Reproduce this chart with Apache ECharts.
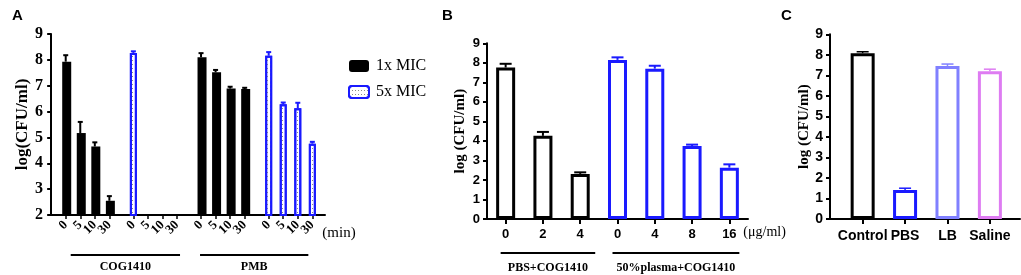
<!DOCTYPE html>
<html>
<head>
<meta charset="utf-8">
<script src="https://cdn.jsdelivr.net/npm/echarts@6/dist/echarts.min.js"></script>
<style>
html,body{margin:0;padding:0;background:#fff;}
#fig{width:1021px;height:275px;}
</style>
</head>
<body>
<div id="fig"></div>
<script>
// A: time kill (log CFU/ml), 4 groups x 4 time points
var timeLabels = ['0', '5', '10', '30'];
var cog1x = [7.93, 5.17, 4.65, 2.55];
var cog1xErr = [0.25, 0.43, 0.16, 0.18];
var cog5x = [8.27, null, null, null];
var cog5xErr = [0.06, null, null, null];
var pmb1x = [8.10, 7.52, 6.89, 6.87];
var pmb1xErr = [0.16, 0.09, 0.07, 0.05];
var pmb5x = [8.16, 6.28, 6.13, 4.76];
var pmb5xErr = [0.14, 0.07, 0.21, 0.07];

// B: dose (ug/ml) in PBS vs 50% plasma
var doseLabels = ['0', '2', '4', '0', '4', '8', '16'];
var pbsVals = [7.76, 4.26, 2.31];
var pbsErr = [0.19, 0.20, 0.08];
var plasmaVals = [8.15, 7.70, 3.74, 2.63];
var plasmaErr = [0.13, 0.15, 0.07, 0.17];

// C: medium
var mediumLabels = ['Control', 'PBS', 'LB', 'Saline'];
var mediumVals = [8.08, 1.41, 7.46, 7.20];
var mediumErr = [0.07, 0.09, 0.09, 0.10];

var BLUE = '#1a1aff';
var mediumColors = ['#000000', BLUE, '#8080ff', '#de7cf2'];
var SERIF = '"Liberation Serif", "DejaVu Serif", serif';
var SANS = '"Liberation Sans", Arial, sans-serif';

// x position of bar k in group g for panel A (extra gap between groups)
function posA(g, k) { return 1 + g * 4 + k + g * 0.65; }
var A_MAX = 18.82;
// x position of bar i in panel C
function posC(i) { return 1 + i; }

var groupsA = [
  { vals: cog1x, err: cog1xErr },
  { vals: cog5x, err: cog5xErr },
  { vals: pmb1x, err: pmb1xErr },
  { vals: pmb5x, err: pmb5xErr }
];
var ticksA = [], labelMapA = {};
var bars1x = [], bars5x = [], errA1 = [], errA5 = [];
groupsA.forEach(function (gr, g) {
  for (var k = 0; k < 4; k++) {
    var p = posA(g, k);
    ticksA.push(p);
    labelMapA[p.toFixed(2)] = timeLabels[k];
    if (gr.vals[k] == null) continue;
    var target = (g % 2 === 0) ? bars1x : bars5x;
    target.push([p, gr.vals[k]]);
    (g % 2 === 0 ? errA1 : errA5).push([p, gr.vals[k], gr.vals[k] + gr.err[k]]);
  }
});
// blank label at the axis end so the real last label is not dropped as an overlap
var labelPosA = ticksA.concat([A_MAX]);

var barsB = [], errB = [], colorsB = [];
pbsVals.forEach(function (v, i) { barsB.push(v); errB.push([i, v, v + pbsErr[i]]); colorsB.push('#000'); });
plasmaVals.forEach(function (v, i) { var j = i + 3; barsB.push(v); errB.push([j, v, v + plasmaErr[i]]); colorsB.push(BLUE); });

var ticksC = mediumLabels.map(function (s, i) { return posC(i); });
var errC = mediumVals.map(function (v, i) { return [posC(i), v, v + mediumErr[i]]; });

// error bar drawn from the raw [x, mean, upper] rows
function errRender(rows, capW, lw, colorOf) {
  return function (params, api) {
    var r = rows[params.dataIndex];
    var p0 = api.coord([r[0], r[1]]), p1 = api.coord([r[0], r[2]]);
    var c = colorOf(params.dataIndex);
    return {
      type: 'group',
      children: [
        { type: 'line', shape: { x1: p0[0], y1: p0[1], x2: p1[0], y2: p1[1] }, style: { stroke: c, lineWidth: lw } },
        { type: 'line', shape: { x1: p1[0] - capW / 2, y1: p1[1], x2: p1[0] + capW / 2, y2: p1[1] }, style: { stroke: c, lineWidth: lw } }
      ]
    };
  };
}

var axisLine = { show: true, lineStyle: { color: '#000', width: 2 } };
var axisTick = { show: true, length: 4, lineStyle: { color: '#000', width: 2 } };

function yAxisFor(grid, min, labelFont, labelSize, name, nameSize, nameGap) {
  return {
    type: 'value', gridIndex: grid, min: min, max: 9, interval: 1,
    axisLine: axisLine, axisTick: axisTick, splitLine: { show: false },
    axisLabel: { color: '#000', fontFamily: labelFont, fontWeight: 'bold', fontSize: labelSize, margin: 7 },
    name: name, nameLocation: 'middle', nameGap: nameGap,
    nameTextStyle: { color: '#000', fontFamily: SERIF, fontWeight: 'bold', fontSize: nameSize }
  };
}

var chart = echarts.init(document.getElementById('fig'));
var option = {
  animation: false,
  backgroundColor: '#fff',
  title: [
    { text: 'A', left: 7, top: 3, textStyle: { fontFamily: SANS, fontWeight: 'bold', fontSize: 15, color: '#000' } },
    { text: 'B', left: 437, top: 3, textStyle: { fontFamily: SANS, fontWeight: 'bold', fontSize: 15, color: '#000' } },
    { text: 'C', left: 776, top: 3, textStyle: { fontFamily: SANS, fontWeight: 'bold', fontSize: 15, color: '#000' } }
  ],
  legend: {
    data: ['1x MIC', '5x MIC'], orient: 'vertical', left: 343, top: 53,
    itemWidth: 20, itemHeight: 12, itemGap: 10,
    textStyle: { fontFamily: SERIF, fontSize: 16, color: '#000', padding: [0, 0, 0, 2] }
  },
  grid: [
    { left: 50, top: 34, width: 275, height: 181 },
    { left: 487, top: 43.3, width: 261, height: 175.7 },
    { left: 830, top: 34.3, width: 190, height: 184.7 }
  ],
  xAxis: [
    {
      type: 'value', gridIndex: 0, min: -0.08, max: A_MAX,
      axisLine: axisLine, splitLine: { show: false },
      axisTick: { show: true, length: 4, lineStyle: { color: '#000', width: 1.5 }, customValues: ticksA },
      axisLabel: {
        customValues: labelPosA, rotate: 45, margin: 8, color: '#000',
        showMinLabel: true, showMaxLabel: true, hideOverlap: false,
        fontFamily: SERIF, fontWeight: 'bold', fontSize: 13,
        formatter: function (v) { return labelMapA[Number(v).toFixed(2)] || ''; }
      }
    },
    {
      type: 'category', gridIndex: 1, data: doseLabels,
      axisLine: axisLine, axisTick: { show: true, alignWithLabel: true, length: 5, lineStyle: { color: '#000', width: 2 } },
      axisLabel: { color: '#000', fontFamily: SANS, fontWeight: 'bold', fontSize: 13, margin: 9 }
    },
    {
      type: 'value', gridIndex: 2, min: 0.23, max: 4.71,
      axisLine: axisLine, splitLine: { show: false },
      axisTick: { show: true, length: 5, lineStyle: { color: '#000', width: 2 }, customValues: ticksC },
      axisLabel: {
        customValues: ticksC, color: '#000', fontFamily: SANS, fontWeight: 'bold', fontSize: 14, margin: 10,
        showMinLabel: true, showMaxLabel: true,
        formatter: function (v) { return mediumLabels[Math.round(v) - 1]; }
      }
    }
  ],
  yAxis: [
    yAxisFor(0, 2, SERIF, 16, 'log(CFU/ml)', 17, 12),
    yAxisFor(1, 0, SANS, 13, 'log (CFU/ml)', 15, 19),
    yAxisFor(2, 0, SANS, 14, 'log (CFU/ml)', 15, 17)
  ],
  series: [
    {
      name: '1x MIC', type: 'bar', xAxisIndex: 0, yAxisIndex: 0, data: bars1x,
      barWidth: 9, barGap: '-100%', itemStyle: { color: '#000' }
    },
    {
      name: '5x MIC', type: 'bar', xAxisIndex: 0, yAxisIndex: 0, data: bars5x,
      barWidth: 7, barGap: '-100%',
      itemStyle: {
        color: '#fff', borderColor: BLUE, borderWidth: 2,
        decal: { symbol: 'rect', symbolSize: 1, dashArrayX: [1, 2], dashArrayY: [1, 3], color: '#8a8a8a', rotation: 0 }
      }
    },
    {
      type: 'custom', xAxisIndex: 0, yAxisIndex: 0, data: errA1, z: 5,
      renderItem: errRender(errA1, 5, 2, function () { return '#000'; })
    },
    {
      type: 'custom', xAxisIndex: 0, yAxisIndex: 0, data: errA5, z: 5,
      renderItem: errRender(errA5, 5, 2, function () { return BLUE; })
    },
    {
      type: 'bar', xAxisIndex: 1, yAxisIndex: 1, barWidth: 19,
      data: barsB.map(function (v, i) {
        return { value: v, itemStyle: { color: '#fff', borderColor: colorsB[i], borderWidth: 3 } };
      })
    },
    {
      type: 'custom', xAxisIndex: 1, yAxisIndex: 1, data: errB, z: 5,
      renderItem: errRender(errB, 12, 2, function (i) { return colorsB[i]; })
    },
    {
      type: 'bar', xAxisIndex: 2, yAxisIndex: 2, barWidth: 24,
      data: mediumVals.map(function (v, i) {
        return { value: [posC(i), v], itemStyle: { color: '#fff', borderColor: mediumColors[i], borderWidth: 3 } };
      })
    },
    {
      type: 'custom', xAxisIndex: 2, yAxisIndex: 2, data: errC, z: 5,
      renderItem: errRender(errC, 12, 1.5, function (i) { return mediumColors[i]; })
    }
  ]
};
chart.setOption(option);

// group brackets and unit text, placed from the axis scales
function pxA(p) { return chart.convertToPixel({ xAxisIndex: 0 }, p); }
function pxB(i) { return chart.convertToPixel({ xAxisIndex: 1 }, i); }
function bracket(x1, x2, y, text, ty) {
  return [
    { type: 'line', shape: { x1: x1, y1: y, x2: x2, y2: y }, style: { stroke: '#000', lineWidth: 2 } },
    { type: 'text', x: (x1 + x2) / 2, y: ty, style: { text: text, textAlign: 'center', textVerticalAlign: 'middle', fill: '#000', font: 'bold 12px ' + SERIF } }
  ];
}
var gfx = [];
gfx = gfx.concat(bracket(pxA(posA(0, 0)) + 5, pxA(posA(1, 3)) + 3, 255, 'COG1410', 267));
gfx = gfx.concat(bracket(pxA(posA(2, 0)) - 1, pxA(posA(3, 3)) - 4, 255, 'PMB', 267));
gfx = gfx.concat(bracket(pxB(0) - 5, pxB(2) + 15, 253, 'PBS+COG1410', 268));
gfx = gfx.concat(bracket(pxB(3) - 5, pxB(6) + 10, 253, '50%plasma+COG1410', 268));
gfx.push({ type: 'text', x: pxA(posA(3, 3)) + 10, y: 233, style: { text: '(min)', textVerticalAlign: 'middle', fill: '#000', font: '15px ' + SERIF } });
gfx.push({ type: 'text', x: pxB(6) + 14, y: 232, style: { text: '(\u03bcg/ml)', textVerticalAlign: 'middle', fill: '#000', font: '14px ' + SERIF } });
chart.setOption({ graphic: gfx });
</script>
</body>
</html>
